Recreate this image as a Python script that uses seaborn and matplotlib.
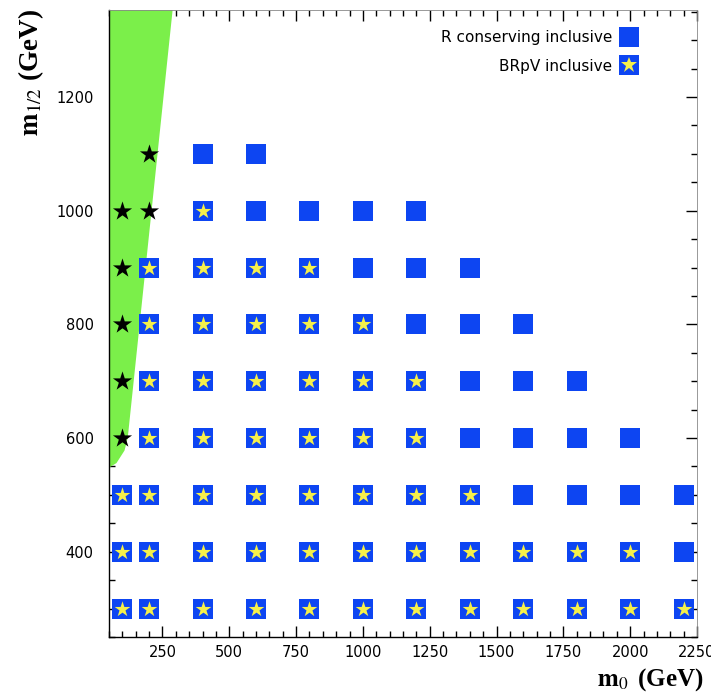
import matplotlib
matplotlib.use("Agg")
import matplotlib.pyplot as plt
from matplotlib.ticker import MultipleLocator
from matplotlib.lines import Line2D
import seaborn as sns
import pandas as pd

# ---------------- data ----------------
# R-conserving inclusive points (blue squares)
rc_m0 = [400, 600,
         400, 600, 800, 1000, 1200,
         200, 400, 600, 800, 1000, 1200, 1400,
         200, 400, 600, 800, 1000, 1200, 1400, 1600,
         200, 400, 600, 800, 1000, 1200, 1400, 1600, 1800,
         200, 400, 600, 800, 1000, 1200, 1400, 1600, 1800, 2000,
         100, 200, 400, 600, 800, 1000, 1200, 1400, 1600, 1800, 2000, 2200,
         100, 200, 400, 600, 800, 1000, 1200, 1400, 1600, 1800, 2000, 2200,
         100, 200, 400, 600, 800, 1000, 1200, 1400, 1600, 1800, 2000, 2200]
rc_m12 = [1100] * 2 + [1000] * 5 + [900] * 7 + [800] * 8 + [700] * 9 + \
         [600] * 10 + [500] * 12 + [400] * 12 + [300] * 12

# BRpV inclusive points (yellow stars on the squares)
brpv_m0 = [400,
           200, 400, 600, 800,
           200, 400, 600, 800, 1000,
           200, 400, 600, 800, 1000, 1200,
           200, 400, 600, 800, 1000, 1200,
           100, 200, 400, 600, 800, 1000, 1200, 1400,
           100, 200, 400, 600, 800, 1000, 1200, 1400, 1600, 1800, 2000,
           100, 200, 400, 600, 800, 1000, 1200, 1400, 1600, 1800, 2000, 2200]
brpv_m12 = [1000] * 1 + [900] * 4 + [800] * 5 + [700] * 6 + [600] * 6 + \
           [500] * 8 + [400] * 11 + [300] * 12

# points inside the excluded (green) region (black stars)
excl_m0 = [200, 100, 200, 100, 100, 100, 100]
excl_m12 = [1100, 1000, 1000, 900, 800, 700, 600]

# boundary of the excluded region
region_m0 = [50, 288, 120, 108, 78, 50]
region_m12 = [1353, 1353, 600, 578, 556, 548]

# axis ticks
x_major = 250
y_major = 200
tick_minor = 50

BLUE = "#0d45f2"
YELLOW = "#f6f04a"
GREEN = "#7bef4a"

df_rc = pd.DataFrame({"m0": rc_m0, "m12": rc_m12})
df_br = pd.DataFrame({"m0": brpv_m0, "m12": brpv_m12})
df_ex = pd.DataFrame({"m0": excl_m0, "m12": excl_m12})

sns.set_theme(style="white")
plt.rcParams["font.family"] = ["DejaVu Sans"]
plt.rcParams["mathtext.fontset"] = "stix"
plt.rcParams["text.color"] = "black"

fig = plt.figure(figsize=(7.11, 6.95), dpi=100)
ax = fig.add_axes([109 / 711, 1 - 637 / 695, (697 - 109) / 711, (637 - 10) / 695])

ax.fill(region_m0, region_m12, color=GREEN, lw=0, zorder=1)

sns.scatterplot(data=df_rc, x="m0", y="m12", marker="s", s=205, color=BLUE,
                linewidth=0, ax=ax, zorder=3, legend=False)
sns.scatterplot(data=df_br, x="m0", y="m12", marker="*", s=140, color=YELLOW,
                linewidth=0, ax=ax, zorder=4, legend=False)
sns.scatterplot(data=df_ex, x="m0", y="m12", marker="*", s=210, color="black",
                linewidth=0, ax=ax, zorder=4, legend=False)

ax.set_xlim(50, 2250)
ax.set_ylim(250, 1353)
ax.set_xlabel("")
ax.set_ylabel("")

ax.xaxis.set_major_locator(MultipleLocator(x_major))
ax.xaxis.set_minor_locator(MultipleLocator(tick_minor))
ax.yaxis.set_major_locator(MultipleLocator(y_major))
ax.yaxis.set_minor_locator(MultipleLocator(tick_minor))
ax.tick_params(which="both", direction="in", top=True, right=True,
               bottom=True, left=True, color="black", width=1.0)
ax.tick_params(which="major", length=8, labelsize=10.5, labelcolor="black")
ax.tick_params(which="minor", length=4.5)
ax.tick_params(axis="x", which="major", pad=6)
ax.tick_params(axis="y", which="major", pad=11)
ax.set_yticks([400, 600, 800, 1000, 1200])

for sp in ax.spines.values():
    sp.set_color("black")
    sp.set_linewidth(1.0)
ax.spines["top"].set_color("#888888")
ax.spines["right"].set_color("#888888")
ax.spines["top"].set_linewidth(0.6)
ax.spines["right"].set_linewidth(0.6)

# legend
h_rc = Line2D([], [], marker="s", ls="", markersize=14.4, color=BLUE, mew=0)
h_sq = Line2D([], [], marker="s", ls="", markersize=14.4, color=BLUE, mew=0)
h_st = Line2D([], [], marker="*", ls="", markersize=11.8, color=YELLOW, mew=0)
ax.legend([h_rc, (h_sq, h_st)], ["R conserving inclusive", "BRpV inclusive"],
          loc="upper right", bbox_to_anchor=(0.924, 0.99), frameon=False,
          markerfirst=False, fontsize=11, handlelength=1.2, handletextpad=0.5,
          labelspacing=0.9, labelcolor="black")

fig.text(597 / 711, 1 - 680 / 695, r"$\mathbf{m}_{0}\,$ (GeV)", ha="left",
         va="center", fontsize=18, fontweight="bold", color="black",
         family=["Liberation Serif", "DejaVu Serif"])
fig.text(31 / 711, 1 - 9 / 695, r"$\mathbf{m}_{1/2}$ (GeV)", ha="center",
         va="top", rotation=90, fontsize=19.5, fontweight="bold", color="black",
         family=["Liberation Serif", "DejaVu Serif"])

fig.savefig("out.png", dpi=100)
